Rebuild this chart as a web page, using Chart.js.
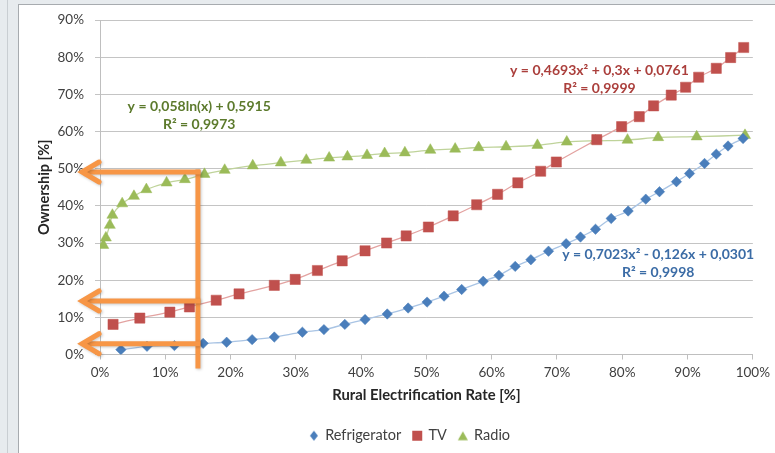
<!DOCTYPE html>
<html>
<head>
<meta charset="utf-8">
<script src="https://cdn.jsdelivr.net/npm/chart.js@4.4.1/dist/chart.umd.min.js"></script>
<style>
  html, body { margin: 0; padding: 0; }
  body { width: 775px; height: 453px; overflow: hidden; position: relative; background: #e7ebee; }
  #rail { position: absolute; left: 7px; top: 0; width: 1px; height: 453px; background: #c9ced2; }
  #frame { position: absolute; left: 18px; top: 4px; width: 770px; height: 460px; background: #fff;
           border-left: 1px solid #a7abaf; border-top: 1px solid #a7abaf; }
  #wrap { position: absolute; left: 0; top: 0; width: 775px; height: 453px; }
</style>
</head>
<body>
<div id="rail"></div>
<div id="frame"></div>
<div id="wrap"><canvas id="c" width="775" height="453"></canvas></div>
<script>
// Ownership of appliances vs. rural electrification rate (both in %)
const seriesNames = ['Refrigerator', 'TV', 'Radio'];

const fridgeRate = [3.2, 7.2, 11.4, 15.8, 19.4, 23.3, 26.7, 31.0, 34.3, 37.5, 40.6, 44.0, 47.2, 50.1, 52.7, 55.4, 58.7,
                    61.1, 63.6, 66.0, 68.7, 71.4, 73.6, 75.9, 78.3, 80.9, 83.6, 85.7, 88.3, 90.3, 92.6, 94.4, 96.2, 98.5];
const fridgeOwn  = [1.3, 2.2, 2.4, 3.0, 3.3, 4.0, 4.7, 6.0, 6.7, 8.1, 9.4, 10.9, 12.5, 14.1, 15.7, 17.5, 19.7,
                    21.3, 23.7, 25.5, 27.8, 29.8, 31.6, 33.7, 36.6, 38.6, 41.8, 43.8, 46.5, 48.7, 51.4, 53.9, 56.1, 58.1];

const tvRate = [2.0, 6.1, 10.7, 13.7, 17.8, 21.3, 26.7, 29.9, 33.3, 37.1, 40.6, 43.9, 46.9, 50.3, 54.1, 57.7, 60.9,
                64.0, 67.5, 69.9, 76.1, 79.9, 82.6, 84.8, 87.5, 89.7, 91.7, 94.4, 96.6, 98.6];
const tvOwn  = [8.1, 9.8, 11.4, 12.8, 14.6, 16.3, 18.6, 20.2, 22.6, 25.2, 27.9, 30.0, 31.9, 34.3, 37.3, 40.3, 43.1,
                46.2, 49.3, 51.8, 57.8, 61.3, 64.0, 66.9, 69.8, 71.9, 74.6, 77.0, 79.9, 82.6];

const radioRate = [0.5, 0.9, 1.5, 1.9, 3.4, 5.2, 7.1, 10.2, 13.0, 16.0, 19.1, 23.4, 27.7, 31.6, 35.1, 37.9, 40.9,
                   43.6, 46.7, 50.6, 54.4, 58.0, 62.2, 67.0, 71.5, 75.9, 80.8, 85.5, 91.4, 98.8];
const radioOwn  = [29.4, 31.4, 34.8, 37.5, 40.6, 42.6, 44.4, 46.2, 47.1, 48.5, 49.6, 50.8, 51.6, 52.3, 52.9, 53.2, 53.6,
                   54.1, 54.3, 55.0, 55.3, 55.7, 55.9, 56.3, 57.2, 57.5, 57.7, 58.4, 58.6, 59.0];

const xTicks = [0, 10, 20, 30, 40, 50, 60, 70, 80, 90, 100];
const yTicks = [0, 10, 20, 30, 40, 50, 60, 70, 80];
const yTop = 90;

// Regression equations printed beside each series
const fitText = [
  ['y = 0,7023x² - 0,126x + 0,0301', 'R² = 0,9998'],
  ['y = 0,4693x² + 0,3x + 0,0761', 'R² = 0,9999'],
  ['y = 0,058ln(x) + 0,5915', 'R² = 0,9973']
];

// Read-off guide: electrification rate and the ownership levels it points to
const guideRate = 15;
const guideLevels = [49.1, 14.4, 2.9];

const pts = (xs, ys) => xs.map((v, i) => ({ x: v, y: ys[i] }));

// placement of the equation blocks (axis units) and of the guide arrows
const fitAnchor = [[85.5, 27.0], [76.5, 76.5], [15.2, 66.6]];
const fitColor = ['#3b6ca6', '#ab3f3c', '#5c7a2c'];
const guideTip = -2.9, guideFoot = -3.8;
const legendShift = 23;

const FONT = 'Lato';

function legendIcon(kind, color) {
  const c = document.createElement('canvas');
  c.width = 12; c.height = 12;
  const g = c.getContext('2d');
  g.fillStyle = color;
  g.beginPath();
  if (kind === 'diamond') { g.moveTo(6, 1); g.lineTo(10, 6); g.lineTo(6, 11); g.lineTo(2, 6); }
  else if (kind === 'square') { g.rect(1, 1, 10, 10); }
  else { g.moveTo(6, 1.5); g.lineTo(11, 10.5); g.lineTo(1, 10.5); }
  g.closePath();
  g.fill();
  return c;
}

const markColor = ['#4a7ebb', '#c0504d', '#9bbb59'];
const icons = [legendIcon('diamond', markColor[0]), legendIcon('square', markColor[1]), legendIcon('triangle', markColor[2])];

const overlay = {
  id: 'overlay',
  afterLayout(chart) {
    // the legend sits centred under the whole frame, not just the canvas box
    if (chart.legend) {
      chart.legend.left += legendShift;
      chart.legend.right += legendShift;
    }
  },
  afterDatasetsDraw(chart) {
    const { ctx, scales: { x, y } } = chart;

    // equation + R² blocks
    ctx.save();
    ctx.font = 'bold 14px ' + FONT;
    ctx.textAlign = 'center';
    ctx.textBaseline = 'middle';
    fitText.forEach((lines, i) => {
      const px = x.getPixelForValue(fitAnchor[i][0]);
      const py = y.getPixelForValue(fitAnchor[i][1]);
      ctx.fillStyle = fitColor[i];
      lines.forEach((t, k) => ctx.fillText(t, px, py + k * 18));
    });
    ctx.restore();

    // orange read-off arrows
    ctx.save();
    ctx.strokeStyle = '#f79646';
    ctx.lineWidth = 5;
    ctx.lineCap = 'butt';
    ctx.lineJoin = 'miter';
    ctx.shadowColor = 'rgba(0,0,0,0.22)';
    ctx.shadowBlur = 3;
    ctx.shadowOffsetX = 1;
    ctx.shadowOffsetY = 1;
    const gx = x.getPixelForValue(guideRate);
    const tip = x.getPixelForValue(guideTip);
    const topY = y.getPixelForValue(Math.max(...guideLevels));
    const footY = y.getPixelForValue(guideFoot);
    ctx.beginPath();
    ctx.moveTo(gx, topY - 2.5);
    ctx.lineTo(gx, footY);
    ctx.stroke();
    guideLevels.forEach(v => {
      const py = y.getPixelForValue(v);
      ctx.beginPath();
      ctx.moveTo(gx + 2.5, py);
      ctx.lineTo(tip + 2, py);
      ctx.stroke();
      ctx.beginPath();
      ctx.lineCap = 'round';
      ctx.moveTo(tip + 18, py - 10);
      ctx.lineTo(tip + 1, py);
      ctx.lineTo(tip + 18, py + 10);
      ctx.stroke();
      ctx.lineCap = 'butt';
    });
    ctx.restore();
  }
};

const lineColor = ['#a9c4e4', '#e3a3a1', '#bfd39a'];
const styles = ['rectRot', 'rect', 'triangle'];
const radii = [5.2, 7.2, 6.4];
const seriesData = [pts(fridgeRate, fridgeOwn), pts(tvRate, tvOwn), pts(radioRate, radioOwn)];

new Chart(document.getElementById('c'), {
  type: 'scatter',
  data: {
    datasets: seriesNames.map((name, i) => ({
      label: name,
      data: seriesData[i],
      showLine: true,
      tension: 0.3,
      borderColor: lineColor[i],
      borderWidth: 1.3,
      pointStyle: styles[i],
      pointRadius: radii[i],
      pointHoverRadius: radii[i],
      pointBackgroundColor: markColor[i],
      pointBorderColor: markColor[i],
      pointBorderWidth: 0.5,
      backgroundColor: markColor[i]
    }))
  },
  options: {
    responsive: false,
    animation: false,
    devicePixelRatio: 1,
    layout: { padding: { left: 18, right: 19, top: 20, bottom: 0 } },
    plugins: {
      tooltip: { enabled: false },
      legend: {
        position: 'bottom',
        labels: {
          usePointStyle: true,
          boxWidth: 8,
          boxHeight: 8,
          padding: 12,
          color: '#404040',
          font: { family: FONT, size: 14.5 },
          generateLabels(chart) {
            return chart.data.datasets.map((ds, i) => ({
              text: ds.label,
              fillStyle: markColor[i],
              strokeStyle: markColor[i],
              lineWidth: 0,
              pointStyle: icons[i],
              fontColor: '#404040',
              hidden: false,
              datasetIndex: i
            }));
          }
        }
      }
    },
    scales: {
      x: {
        type: 'linear',
        min: 0,
        max: 100,
        afterBuildTicks: s => { s.ticks = xTicks.map(v => ({ value: v })); },
        afterFit: s => { s.height = 62; },
        grid: { drawOnChartArea: false, drawTicks: true, tickLength: 5, color: '#bfbfbf' },
        border: { color: '#bfbfbf' },
        ticks: {
          padding: 5, color: '#404040', maxRotation: 0, autoSkip: false,
          font: { family: FONT, size: 13.5 },
          callback: v => v + '%'
        },
        title: {
          display: true, text: 'Rural Electrification Rate [%]', color: '#262626',
          font: { family: FONT, size: 14.8, weight: 'bold' },
          padding: { top: 0, bottom: 12 }
        }
      },
      y: {
        type: 'linear',
        min: 0,
        max: yTop,
        afterBuildTicks: s => { s.ticks = yTicks.concat([yTop]).map(v => ({ value: v })); },
        afterFit: s => { s.width = 82; },
        grid: { color: '#c4c4c4', tickLength: 5 },
        border: { color: '#bfbfbf' },
        ticks: {
          padding: 11, color: '#404040',
          font: { family: FONT, size: 13.5 },
          callback: v => v + '%'
        },
        title: {
          display: true, text: 'Ownership [%]', color: '#262626',
          font: { family: FONT, size: 14.5, weight: 'bold' },
          padding: { top: 18, bottom: 0 }
        }
      }
    }
  },
  plugins: [overlay]
});
</script>
</body>
</html>
